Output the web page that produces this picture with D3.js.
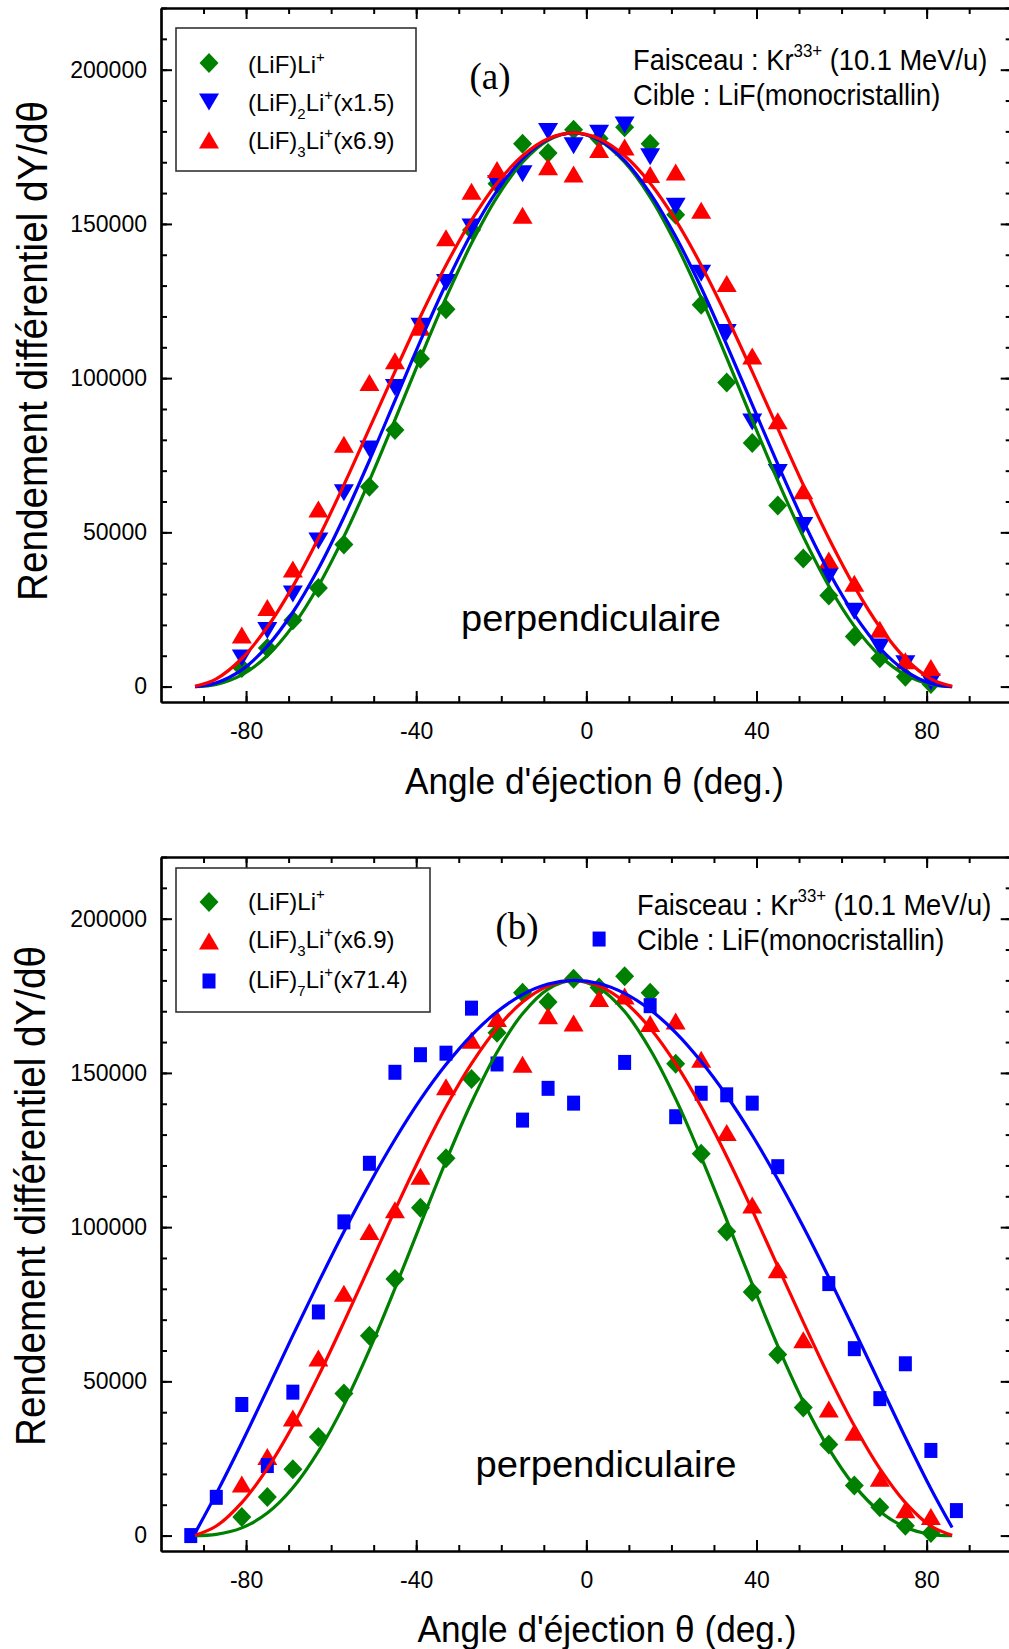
<!DOCTYPE html>
<html><head><meta charset="utf-8">
<script src="https://cdn.jsdelivr.net/npm/d3@7"></script>
<style>body{margin:0;background:#fff} svg{display:block}</style>
</head><body><svg id="c" width="1009" height="1649"></svg>
<script>
// ---------- data ----------
const obsAngles = [-81,-75,-69,-63,-57,-51,-45,-39,-33,-27,-21,-15,-9,-3,3,9,15,21,27,33,39,45,51,57,63,69,75,81];
const lif1Li = [6000,12500,21500,32000,46100,64800,83200,106300,122300,148000,163000,176000,173000,180500,177700,181300,176000,153000,123800,98600,79000,58700,41500,29500,16200,9200,3200,800];
const lif2Li = [9300,18200,30000,47200,62800,77000,97000,116800,131000,149000,163000,166300,180000,175300,179400,182100,171800,155700,134000,114800,85800,69400,52200,35800,24400,12800,7400,1500];
const lif3Li = [16700,25600,38100,57600,78600,98600,105600,116500,145500,160600,167600,152800,168500,166200,174100,174900,166000,166800,154400,130700,107200,86200,63500,41000,33500,18600,8400,6200];
const lif7Angles = [-93,-87,-81,-75,-69,-63,-57,-51,-45,-39,-33,-27,-21,-15,-9,-3,3,9,15,21,27,33,39,45,57,63,69,75,81,87];
const lif7Li = [0,12400,42500,22700,46500,72500,101700,120700,150200,155900,156400,171000,152900,134700,145000,140200,193400,153400,171800,135800,143400,142900,140200,119600,81700,60600,44400,55700,27600,8100];

const fitAngles = [-92,-87,-81,-75,-69,-63,-57,-51,-45,-39,-33,-27,-21,-15,-9,-3,3,9,15,21,27,33,39,45,51,57,63,69,75,81,86];
const fitA_lif1 = [0,700,3800,10000,19600,32600,48600,66800,86500,106600,126000,143700,158700,170000,177100,179500,177100,170000,158700,143700,126000,106600,86500,66800,48600,32600,19600,10000,3800,700,0];
const fitA_lif2 = [0,1200,5400,13100,24100,38200,54900,73300,92700,112100,130500,147000,160700,171100,177400,179500,177200,170500,159900,145900,129300,110800,91400,72100,53700,37200,23300,12500,5100,1000,0];
const fitA_lif3 = [100,2500,9100,19300,32500,48100,65400,83700,102100,120000,136600,151200,163200,172100,177600,179500,177600,172100,163200,151200,136600,120000,102100,83700,65400,48100,32500,19300,9100,2500,100];
const fitB_lif1 = [0,400,2500,7300,15500,27300,42300,60200,80100,100900,121400,140400,156700,169200,177200,180000,177500,169900,157600,141600,122700,102300,81500,61500,43400,28200,16200,7800,2700,400,0];
const fitB_lif3 = [100,3100,10700,21700,35600,51700,69200,87300,105500,122900,139000,153000,164500,173000,178200,180000,178200,173000,164500,153000,139000,122900,105500,87300,69200,51700,35600,21700,10700,3100,100];
const fitB_lif7 = [800,13600,30100,47400,64900,82000,98500,114000,128400,141400,152700,162200,169800,175400,178800,180000,179000,175800,170500,163100,153700,142600,129800,115500,100100,83700,66600,49200,31800,15200,2600];

const xMajorTicks = [-80,-40,0,40,80];
const yMajorTicks = [0,50000,100000,150000,200000];

const GREEN = "#008000", BLUE = "#0000ff", RED = "#ff0000";
const FONT = "'Liberation Sans', Arial, sans-serif";
const fmt = d => String(d);

const svg = d3.select("#c");
const x = d3.scaleLinear().domain([-100,100]).range([161,1011.7]);

function makePanel(top, bottom) {
  const y = d3.scaleLinear().domain([-5000,220000]).range([bottom, top]);
  const g = svg.append("g");
  const minorX = d3.range(-90, 91, 10);
  const minorY = d3.range(0, 220001, 10000);
  const styleAxis = a => {
    a.select(".domain").attr("stroke","#000").attr("stroke-width",2.2);
    a.selectAll(".tick line").attr("stroke","#000").attr("stroke-width",2);
  };
  g.append("g").attr("transform",`translate(0,${bottom})`)
    .call(d3.axisBottom(x).tickValues(minorX).tickSize(-6).tickSizeOuter(0).tickFormat(""))
    .call(styleAxis);
  g.append("g").attr("transform",`translate(0,${bottom})`)
    .call(d3.axisBottom(x).tickValues(xMajorTicks).tickSize(-11).tickSizeOuter(0).tickPadding(21).tickFormat(fmt))
    .call(styleAxis)
    .call(a => a.selectAll("text").attr("font-family",FONT).attr("font-size",23).attr("fill","#000"));
  g.append("g").attr("transform",`translate(0,${top})`)
    .call(d3.axisTop(x).tickValues(minorX).tickSize(-6).tickSizeOuter(0).tickFormat(""))
    .call(styleAxis);
  g.append("g").attr("transform",`translate(0,${top})`)
    .call(d3.axisTop(x).tickValues(xMajorTicks).tickSize(-11).tickSizeOuter(0).tickFormat(""))
    .call(styleAxis);
  g.append("g").attr("transform",`translate(161,0)`)
    .call(d3.axisLeft(y).tickValues(minorY).tickSize(-6).tickSizeOuter(0).tickFormat(""))
    .call(styleAxis);
  g.append("g").attr("transform",`translate(161,0)`)
    .call(d3.axisLeft(y).tickValues(yMajorTicks).tickSize(-11).tickSizeOuter(0).tickPadding(14).tickFormat(fmt))
    .call(styleAxis)
    .call(a => a.selectAll("text").attr("font-family",FONT).attr("font-size",23).attr("fill","#000"));
  g.append("g").attr("transform",`translate(${x(100)},0)`)
    .call(d3.axisRight(y).tickValues(minorY).tickSize(-6).tickSizeOuter(0).tickFormat(""))
    .call(styleAxis);
  g.append("g").attr("transform",`translate(${x(100)},0)`)
    .call(d3.axisRight(y).tickValues(yMajorTicks).tickSize(-11).tickSizeOuter(0).tickFormat(""))
    .call(styleAxis);
  return {g, y};
}

const sym = {
  diamond: "M0,-10L9.5,0L0,10L-9.5,0Z",
  down: "M0,8.5L10,-8.5L-10,-8.5Z",
  up: "M0,-8.5L10,8.5L-10,8.5Z",
  square: "M-6.5,-7.5H6.5V7.5H-6.5Z"
};

function markers(g, y, angles, vals, shape, color) {
  g.append("g").selectAll("path").data(angles.map((a,i)=>[a,vals[i]])).join("path")
    .attr("d", sym[shape]).attr("fill", color)
    .attr("transform", d => `translate(${x(d[0])},${y(d[1])})`);
}
function fitLine(g, y, vals, color) {
  const line = d3.line().x(d=>x(d[0])).y(d=>y(d[1])).curve(d3.curveCatmullRom.alpha(0.5));
  g.append("path").datum(fitAngles.map((a,i)=>[a,vals[i]]))
    .attr("d", line).attr("fill","none").attr("stroke",color).attr("stroke-width",3.2);
}

function legend(g, box, rows) {
  g.append("rect").attr("x",box[0]).attr("y",box[1]).attr("width",box[2]-box[0]).attr("height",box[3]-box[1])
    .attr("fill","none").attr("stroke","#333").attr("stroke-width",1.6);
  rows.forEach(r => {
    g.append("path").attr("d", sym[r.shape]).attr("fill", r.color)
      .attr("transform",`translate(209,${r.my})`);
    const t = g.append("text").attr("x",248).attr("y",r.by).attr("font-family",FONT).attr("font-size",24).attr("fill","#000");
    t.append("tspan").text("(LiF)");
    if (r.sub) {
      t.append("tspan").attr("font-size",15).attr("dy",8).text(r.sub);
      t.append("tspan").attr("dy",-8).text("Li");
    } else {
      t.append("tspan").text("Li");
    }
    t.append("tspan").attr("font-size",15).attr("dy",-11).text("+");
    if (r.scale) t.append("tspan").attr("dy",11).text(r.scale);
  });
}

function annot(g, x0, y1, y2) {
  const t1 = g.append("text").attr("transform",`translate(${x0},${y1}) scale(0.94,1)`)
    .attr("font-family",FONT).attr("font-size",29).attr("fill","#000");
  t1.append("tspan").text("Faisceau : Kr");
  t1.append("tspan").attr("font-size",18).attr("dy",-13).text("33+");
  t1.append("tspan").attr("dy",13).text(" (10.1 MeV/u)");
  g.append("text").attr("transform",`translate(${x0},${y2}) scale(0.94,1)`)
    .attr("font-family",FONT).attr("font-size",29).attr("fill","#000")
    .text("Cible : LiF(monocristallin)");
}

function titles(g, ycx, ycy, xcx, xby) {
  g.append("text").attr("transform",`translate(${ycx},${ycy}) rotate(-90)`)
    .attr("text-anchor","middle").attr("font-family",FONT).attr("font-size",42)
    .attr("textLength",500).attr("lengthAdjust","spacingAndGlyphs").attr("fill","#000")
    .text("Rendement différentiel dY/dθ");
  g.append("text").attr("x",xcx).attr("y",xby)
    .attr("text-anchor","middle").attr("font-family",FONT).attr("font-size",37)
    .attr("textLength",379).attr("lengthAdjust","spacingAndGlyphs").attr("fill","#000")
    .text("Angle d'éjection θ (deg.)");
}

// ---------- panel (a) ----------
{
  const {g, y} = makePanel(8, 702);
  markers(g, y, obsAngles, lif1Li, "diamond", GREEN);
  markers(g, y, obsAngles, lif2Li, "down", BLUE);
  markers(g, y, obsAngles, lif3Li, "up", RED);
  fitLine(g, y, fitA_lif1, GREEN);
  fitLine(g, y, fitA_lif2, BLUE);
  fitLine(g, y, fitA_lif3, RED);
  legend(g, [176,28,416,171], [
    {shape:"diamond", color:GREEN, my:63, by:73},
    {shape:"down", color:BLUE, my:102, by:111, sub:"2", scale:"(x1.5)"},
    {shape:"up", color:RED, my:140, by:149, sub:"3", scale:"(x6.9)"}
  ]);
  g.append("text").attr("x",490).attr("y",89).attr("text-anchor","middle")
    .attr("font-family","'Liberation Serif','Times New Roman',serif").attr("font-size",37).text("(a)");
  annot(g, 633, 70, 105);
  g.append("text").attr("x",591).attr("y",631).attr("text-anchor","middle")
    .attr("font-family",FONT).attr("font-size",37).attr("textLength",260).attr("lengthAdjust","spacingAndGlyphs")
    .text("perpendiculaire");
  titles(g, 47, 351, 594.5, 794);
}
// ---------- panel (b) ----------
{
  const {g, y} = makePanel(857, 1551);
  markers(g, y, obsAngles, lif1Li, "diamond", GREEN);
  markers(g, y, obsAngles, lif3Li, "up", RED);
  markers(g, y, lif7Angles, lif7Li, "square", BLUE);
  fitLine(g, y, fitB_lif1, GREEN);
  fitLine(g, y, fitB_lif3, RED);
  fitLine(g, y, fitB_lif7, BLUE);
  legend(g, [176,868,430,1012], [
    {shape:"diamond", color:GREEN, my:902, by:910},
    {shape:"up", color:RED, my:941, by:948, sub:"3", scale:"(x6.9)"},
    {shape:"square", color:BLUE, my:981, by:988, sub:"7", scale:"(x71.4)"}
  ]);
  g.append("text").attr("x",517).attr("y",939).attr("text-anchor","middle")
    .attr("font-family","'Liberation Serif','Times New Roman',serif").attr("font-size",37).text("(b)");
  annot(g, 637, 915, 950);
  g.append("text").attr("x",606).attr("y",1477).attr("text-anchor","middle")
    .attr("font-family",FONT).attr("font-size",37).attr("textLength",261).attr("lengthAdjust","spacingAndGlyphs")
    .text("perpendiculaire");
  titles(g, 45, 1196, 607, 1642);
}
</script></body></html>
